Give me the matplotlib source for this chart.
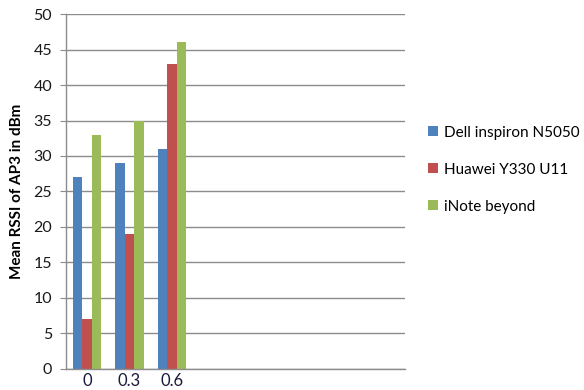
import matplotlib.pyplot as plt
import numpy as np

plt.rcParams['font.family'] = ['Lato', 'DejaVu Sans']

# Mean RSSI per device at each setting
categories = ['0', '0.3', '0.6']
dell = [27, 29, 31]
huawei = [7, 19, 43]
inote = [33, 35, 46]
series = [('Dell inspiron N5050', dell, '#4F81BD'),
          ('Huawei Y330 U11', huawei, '#C0504D'),
          ('iNote beyond', inote, '#9BBB59')]

# the category axis has room for 8 slots, only the first three hold data
n_slots = 8

fig = plt.figure(figsize=(5.84, 3.9), dpi=100)
ax = fig.add_axes([0.113, 0.054, 0.58, 0.91])

x = np.arange(len(categories))
w = 0.225
for i, (name, vals, col) in enumerate(series):
    ax.bar(x + (i - 1) * w, vals, w, color=col, label=name, zorder=2)

ax.set_xlim(-0.5, n_slots - 0.5)
ax.set_ylim(0, 50)
ax.set_yticks(range(0, 51, 5))
ax.set_xticks(x)
ax.set_xticklabels(categories)
ax.yaxis.grid(True, color='#8c8c8c', linewidth=1.0, zorder=0)

for s in ['top', 'right']:
    ax.spines[s].set_visible(False)
for s in ['left', 'bottom']:
    ax.spines[s].set_color('#8c8c8c')
    ax.spines[s].set_linewidth(1.0)

ax.tick_params(axis='y', length=4, color='#8c8c8c', labelsize=11.5,
               labelcolor='#1a1a1a', pad=6)
ax.tick_params(axis='x', length=0, labelsize=12, labelcolor='#1a1a3a', pad=3)
ax.set_ylabel('Mean RSSI of AP3 in dBm', fontsize=11, fontweight='bold',
              labelpad=7)

fig.legend(loc='center left', bbox_to_anchor=(0.71, 0.565), frameon=False,
           fontsize=11, handlelength=0.65, handleheight=0.65,
           handletextpad=0.35, labelspacing=1.5)

fig.savefig('out.png', dpi=100)
